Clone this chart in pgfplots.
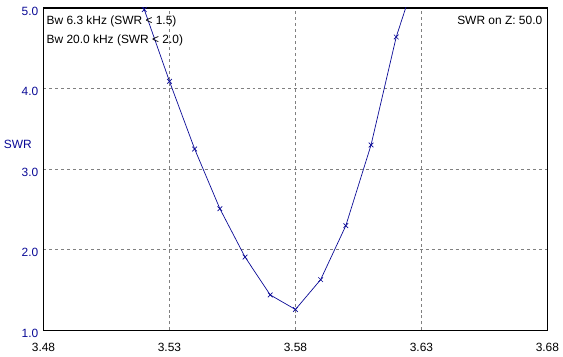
\documentclass[border=0pt]{standalone}
\usepackage{fontspec}
\setmainfont{Liberation Sans}
\usepackage{pgfplots}
\pgfplotsset{compat=1.18}
\definecolor{swrblue}{RGB}{10,10,150}
\definecolor{gridgray}{RGB}{128,128,128}
\begin{document}
\begin{tikzpicture}[x=1pt,y=1pt]
\fontsize{12}{14}\selectfont
\begin{axis}[
  name=main,
  at={(0,0)}, anchor=south west,
  scale only axis,
  width=506.3pt, height=324pt,
  xmin=3.48, xmax=3.68, ymin=1, ymax=5,
  xtick={3.48,3.53,3.58,3.63,3.68},
  ytick={1,2,3,4,5},
  xticklabels={3.48,3.53,3.58,3.63,3.68},
  yticklabels={1.0,2.0,3.0,4.0,5.0},
  major tick length=0pt,
  grid=major,
  major grid style={gridgray, dash pattern=on 3pt off 3pt, line width=0.8pt},
  axis line style={black, line width=1.3pt},
  tick label style={font=\fontsize{12}{14}\selectfont},
  yticklabel style={text=swrblue, xshift=-1pt, yshift=-3pt},
  xticklabel style={text=black, yshift=-9pt},
  clip mode=individual,
]
\addplot[swrblue, line width=0.7pt, mark=x, mark size=3.3pt, mark options={line width=0.7pt}] coordinates {
 (3.51,5.95) (3.52,4.98) (3.53,4.09) (3.54,3.25) (3.55,2.51) (3.56,1.91)
 (3.57,1.44) (3.58,1.26) (3.59,1.63) (3.60,2.30) (3.61,3.30) (3.62,4.64) (3.63,5.60)
};
\end{axis}
\node[anchor=north west, align=left, inner sep=0pt, font=\fontsize{12}{19}\selectfont] at (main.north west) [xshift=3pt, yshift=-8pt] {Bw 6.3 kHz (SWR < 1.5)\\Bw 20.0 kHz (SWR < 2.0)};
\node[anchor=north east, inner sep=0pt, font=\fontsize{12}{14}\selectfont] at (main.north east) [xshift=-5pt, yshift=-8pt] {SWR on Z: 50.0};
\node[anchor=west, inner sep=0pt, text=swrblue, font=\fontsize{12}{14}\selectfont] at (-40,187) {SWR};
\useasboundingbox (-43.7,-26) rectangle (519.3,332);
\end{tikzpicture}
\end{document}
